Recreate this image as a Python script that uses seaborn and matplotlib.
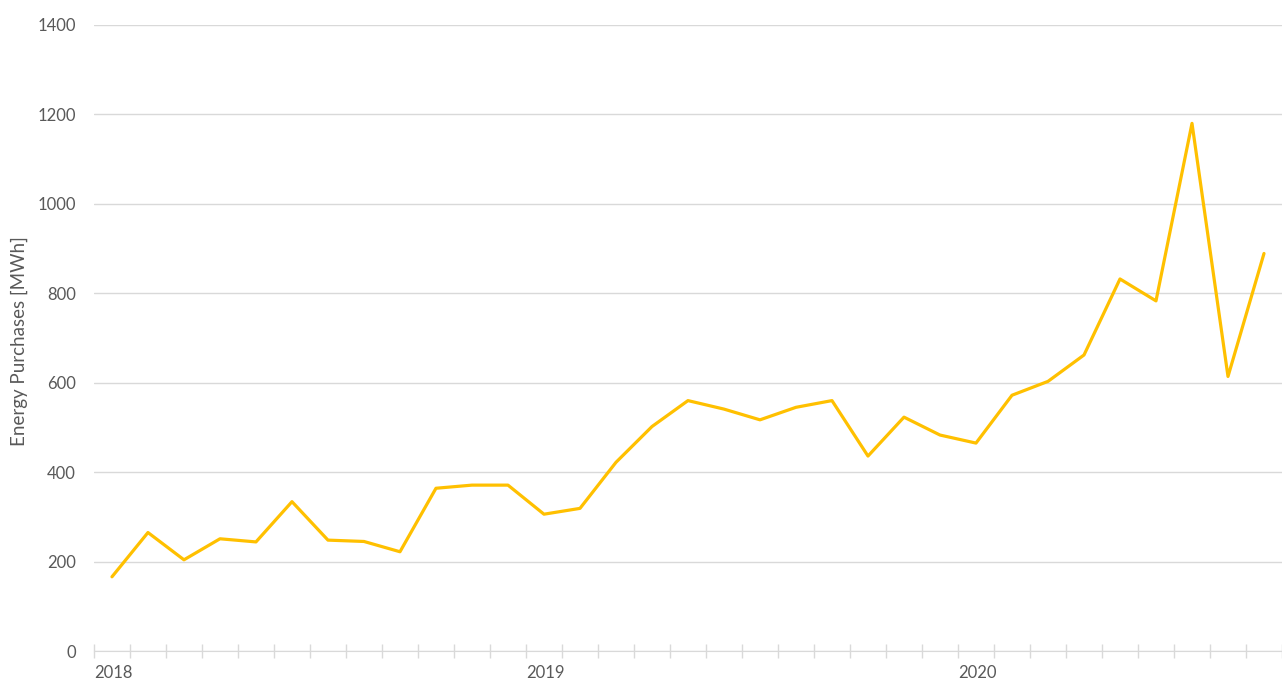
import matplotlib
matplotlib.use("Agg")
import matplotlib.pyplot as plt
import numpy as np
import pandas as pd
import seaborn as sns

months = [
    "2018-01", "2018-02", "2018-03", "2018-04", "2018-05", "2018-06",
    "2018-07", "2018-08", "2018-09", "2018-10", "2018-11", "2018-12",
    "2019-01", "2019-02", "2019-03", "2019-04", "2019-05", "2019-06",
    "2019-07", "2019-08", "2019-09", "2019-10", "2019-11", "2019-12",
    "2020-01", "2020-02", "2020-03", "2020-04", "2020-05", "2020-06",
    "2020-07", "2020-08", "2020-09",
]
purchases = [
    166, 265, 204, 251, 244, 334, 248, 245, 222, 364, 371, 371,
    306, 319, 422, 502, 560, 541, 517, 545, 560, 436, 523, 483,
    465, 572, 603, 662, 832, 783, 1180, 614, 889,
]
y_ticks = [0, 200, 400, 600, 800, 1000, 1200, 1400]

df = pd.DataFrame({"month": months, "purchases": purchases})
df["pos"] = np.arange(len(df))

sns.set_style("white")
plt.rcParams["font.family"] = ["Lato", "DejaVu Sans"]

grey_txt = "#595959"
grid_col = "#D9D9D9"

fig = plt.figure(figsize=(12.82, 6.84), dpi=100)
ax = fig.add_axes([0.0733, 0.0482, 0.9267, 0.9153])

sns.lineplot(data=df, x="pos", y="purchases", color="#FFC000", linewidth=2.3, ax=ax)

ax.set_ylim(0, 1400)
ax.set_xlim(-0.5, len(df) - 0.5)
ax.set_yticks(y_ticks)
ax.set_yticklabels([str(v) for v in y_ticks])
ax.yaxis.grid(True, color=grid_col, linewidth=1)
ax.set_axisbelow(True)

# year labels at the start of each January, month boundary ticks
year_pos = [p - 0.5 for p, m in zip(df["pos"], months) if m.endswith("-01")]
year_lab = [m[:4] for m in months if m.endswith("-01")]
ax.set_xticks(year_pos)
ax.set_xticklabels(year_lab, ha="left")
ax.set_xticks(np.arange(-0.5, len(df) + 0.5, 1), minor=True)
ax.tick_params(axis="x", which="both", bottom=True, direction="inout", length=10,
               color=grid_col, width=1, labelsize=12, labelcolor=grey_txt, pad=5)
ax.tick_params(axis="y", left=False, length=0, labelsize=12, labelcolor=grey_txt, pad=13)

for s in ["top", "right", "left"]:
    ax.spines[s].set_visible(False)
ax.spines["bottom"].set_color(grid_col)

ax.set_xlabel("")
ax.set_ylabel("Energy Purchases [MWh]", fontsize=13.5, color=grey_txt)
ax.yaxis.set_label_coords(-0.0556, 0.495)

fig.savefig("out.png", dpi=100)
